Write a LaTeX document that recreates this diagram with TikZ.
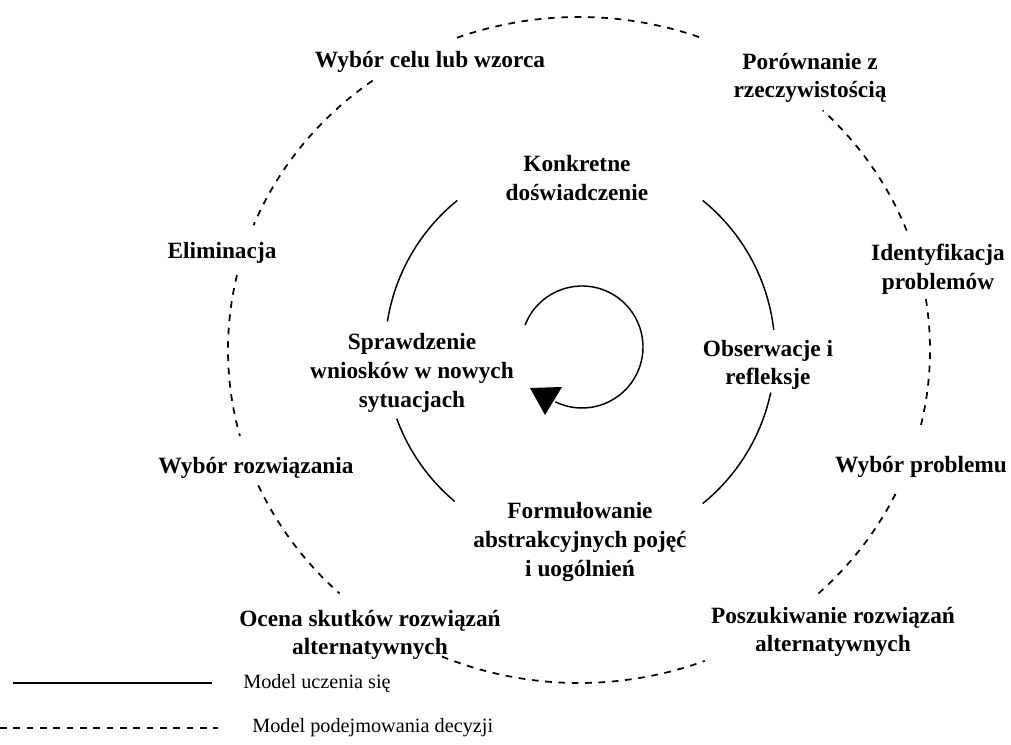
\documentclass[tikz,border=0pt]{standalone}
\usepackage{fontspec}
\setmainfont{Liberation Serif}
\usetikzlibrary{calc}
\begin{document}
\begin{tikzpicture}[x=0.75pt,y=0.75pt,
  lbl/.style={align=center,inner sep=1pt,font=\fontsize{17.5}{21.5}\selectfont\bfseries},
  leg/.style={anchor=west,inner sep=0pt,font=\fontsize{15.2}{18}\selectfont},
  solidarc/.style={line width=1.1pt},
  dasharc/.style={line width=1.3pt,dash pattern=on 5pt off 5pt},
]
\useasboundingbox (0,0) rectangle (1011,745);
\coordinate (O) at (579,395);
\coordinate (I) at (580,393);
\coordinate (S) at (582,398);
% outer dashed ellipse pieces
\foreach \a/\b in {70/111,126/158,167/195,204/227,247/291,313/335.5,347/369,21/46}{
  \draw[dasharc] ($(O)+(\a:351 and 333)$) arc[start angle=\a,end angle=\b,x radius=351,y radius=333];
}
% inner solid circle pieces
\foreach \a/\b in {6.5/51,129/171,200/230,309/348}{
  \draw[solidarc] ($(I)+(\a:195)$) arc[start angle=\a,end angle=\b,radius=195];
}
% central cycle arrow
\draw[solidarc] ($(S)+(159:61)$) arc[start angle=159,end angle=-116,radius=61];
\fill (530,357) -- (562,358) -- (545,330) -- cycle;
% labels
\node[lbl] (wybcel) at (430,683) {Wybór celu lub wzorca};
\node[lbl] (poro) at (810,667) {Porównanie z\\rzeczywistością};
\node[lbl] (ident) at (938,476) {Identyfikacja\\problemów};
\node[lbl] (wybprob) at (921,278) {Wybór problemu};
\node[lbl] (poszuk) at (833,113) {Poszukiwanie rozwiązań\\alternatywnych};
\node[lbl] (ocena) at (370,110) {Ocena skutków rozwiązań\\alternatywnych};
\node[lbl] (wybroz) at (256,277) {Wybór rozwiązania};
\node[lbl] (elim) at (222,492) {Eliminacja};
\node[lbl] (konkr) at (577,567) {Konkretne\\doświadczenie};
\node[lbl] (spraw) at (412,372) {Sprawdzenie\\wniosków w nowych\\sytuacjach};
\node[lbl] (obs) at (768,380) {Obserwacje i\\refleksje};
\node[lbl] (form) at (580,203) {Formułowanie\\abstrakcyjnych pojęć\\i uogólnień};
% legend
\coordinate (l1a) at (13,62);
\coordinate (l1b) at (212,62);
\coordinate (l2a) at (0,17);
\coordinate (l2b) at (218,17);
\draw[line width=0.9pt] (l1a) -- (l1b);
\draw[line width=0.9pt,dash pattern=on 5pt off 5pt] (l2a) -- (l2b);
\node[leg] (leg1) at (243,62) {Model uczenia się};
\node[leg] (leg2) at (252,17) {Model podejmowania decyzji};
\end{tikzpicture}
\end{document}
